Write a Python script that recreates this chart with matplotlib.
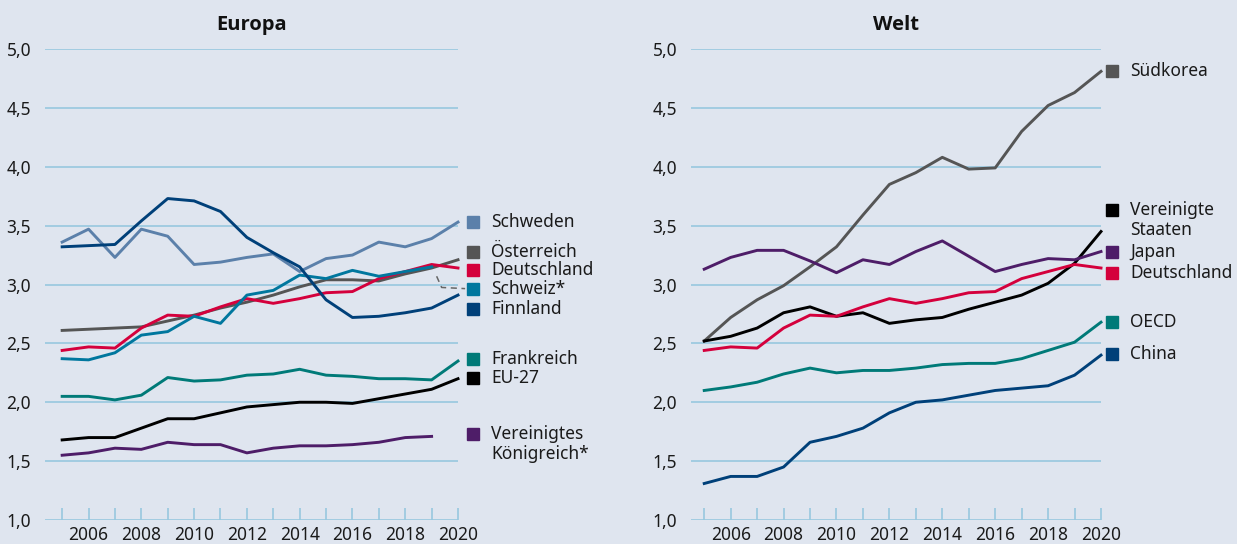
import numpy as np
import matplotlib.pyplot as plt
from matplotlib.ticker import FuncFormatter, MultipleLocator
from matplotlib.transforms import offset_copy

plt.rcParams["font.family"] = ["Noto Sans", "DejaVu Sans"]

YEARS = list(range(2005, 2021))

# -------------------------------------------------------------------
# Data: Europa
# -------------------------------------------------------------------
schweden = [3.36, 3.47, 3.23, 3.47, 3.41, 3.17, 3.19, 3.23, 3.26, 3.11,
            3.22, 3.25, 3.36, 3.32, 3.39, 3.53]
oesterreich = [2.61, 2.62, 2.63, 2.64, 2.69, 2.74, 2.80, 2.85, 2.91, 2.98,
               3.04, 3.04, 3.03, 3.09, 3.14, 3.21]
deutschland = [2.44, 2.47, 2.46, 2.63, 2.74, 2.73, 2.81, 2.88, 2.84, 2.88,
               2.93, 2.94, 3.05, 3.11, 3.17, 3.14]
schweiz = [2.37, 2.36, 2.42, 2.57, 2.60, 2.73, 2.67, 2.91, 2.95, 3.08,
           3.05, 3.12, 3.07, 3.11, 3.15, None]
finnland = [3.32, 3.33, 3.34, 3.54, 3.73, 3.71, 3.62, 3.40, 3.27, 3.15,
            2.87, 2.72, 2.73, 2.76, 2.80, 2.91]
frankreich = [2.05, 2.05, 2.02, 2.06, 2.21, 2.18, 2.19, 2.23, 2.24, 2.28,
              2.23, 2.22, 2.20, 2.20, 2.19, 2.35]
eu27 = [1.68, 1.70, 1.70, 1.78, 1.86, 1.86, 1.91, 1.96, 1.98, 2.00,
        2.00, 1.99, 2.03, 2.07, 2.11, 2.20]
uk = [1.55, 1.57, 1.61, 1.60, 1.66, 1.64, 1.64, 1.57, 1.61, 1.63,
      1.63, 1.64, 1.66, 1.70, 1.71, None]

# -------------------------------------------------------------------
# Data: Welt
# -------------------------------------------------------------------
suedkorea = [2.52, 2.72, 2.87, 2.99, 3.15, 3.32, 3.59, 3.85, 3.95, 4.08,
             3.98, 3.99, 4.30, 4.52, 4.63, 4.81]
usa = [2.52, 2.56, 2.63, 2.76, 2.81, 2.73, 2.76, 2.67, 2.70, 2.72,
       2.79, 2.85, 2.91, 3.01, 3.18, 3.45]
japan = [3.13, 3.23, 3.29, 3.29, 3.20, 3.10, 3.21, 3.17, 3.28, 3.37,
         3.24, 3.11, 3.17, 3.22, 3.21, 3.28]
oecd = [2.10, 2.13, 2.17, 2.24, 2.29, 2.25, 2.27, 2.27, 2.29, 2.32,
        2.33, 2.33, 2.37, 2.44, 2.51, 2.68]
china = [1.31, 1.37, 1.37, 1.45, 1.66, 1.71, 1.78, 1.91, 2.00, 2.02,
         2.06, 2.10, 2.12, 2.14, 2.23, 2.40]

C_SCHWEDEN = "#5b80aa"
C_GREY = "#555555"
C_RED = "#d4003c"
C_SCHWEIZ = "#00779e"
C_DARKBLUE = "#004079"
C_TEAL = "#007a78"
C_BLACK = "#000000"
C_PURPLE = "#4e1d68"

BG = "#dfe5ef"
GRID = "#98c8df"

# (label, values, colour, label y)
EUROPA = [
    ("Schweden", schweden, C_SCHWEDEN, 3.53),
    ("Österreich", oesterreich, C_GREY, 3.28),
    ("Deutschland", deutschland, C_RED, 3.12),
    ("Schweiz*", schweiz, C_SCHWEIZ, 2.96),
    ("Finnland", finnland, C_DARKBLUE, 2.79),
    ("Frankreich", frankreich, C_TEAL, 2.37),
    ("EU-27", eu27, C_BLACK, 2.21),
    ("Vereinigtes\nKönigreich*", uk, C_PURPLE, 1.73),
]

WELT = [
    ("Südkorea", suedkorea, C_GREY, 4.81),
    ("Vereinigte\nStaaten", usa, C_BLACK, 3.63),
    ("Japan", japan, C_PURPLE, 3.28),
    ("Deutschland", deutschland, C_RED, 3.10),
    ("OECD", oecd, C_TEAL, 2.68),
    ("China", china, C_DARKBLUE, 2.41),
]


def setup_ax(ax, title, xmin):
    ax.set_facecolor(BG)
    ax.set_xlim(xmin, 2020)
    ax.set_ylim(1.0, 5.0)
    for s in ax.spines.values():
        s.set_visible(False)
    ax.yaxis.set_major_locator(MultipleLocator(0.5))
    ax.yaxis.set_major_formatter(FuncFormatter(lambda v, _: f"{v:.1f}".replace(".", ",")))
    ax.grid(True, axis="y", color=GRID, linewidth=1.2)
    ax.set_axisbelow(True)
    ax.set_xticks(range(2006, 2021, 2))
    ax.set_xticks(range(2005, 2021), minor=True)
    ax.tick_params(axis="y", length=0, pad=10, labelsize=12.5, labelcolor="#1a1a1a")
    ax.tick_params(axis="x", which="both", direction="in", length=9,
                   width=1.2, color=GRID, pad=4, labelsize=12.5, labelcolor="#1a1a1a")
    ax.set_title(title, fontsize=14.5, fontweight="bold", pad=14,
                 family=["Open Sans", "DejaVu Sans"], color="#111111")


def draw_panel(ax, series, sq_dx, txt_dx):
    fig = ax.figure
    sq_tr = offset_copy(ax.transData, fig=fig, x=sq_dx, y=0, units="dots")
    for label, values, color, ylab in series:
        xs = [x for x, v in zip(YEARS, values) if v is not None]
        ys = [v for v in values if v is not None]
        ax.plot(xs, ys, color=color, linewidth=2.1, clip_on=False,
                solid_joinstyle="round", zorder=3)
        ax.plot([2020], [ylab], marker="s", markersize=9, color=color,
                linestyle="none", transform=sq_tr, clip_on=False)
        multi = "\n" in label
        ax.annotate(label, xy=(2020, ylab), xytext=(txt_dx, 9 if multi else 0),
                    textcoords="offset pixels", va="top" if multi else "center",
                    ha="left", fontsize=12.5, color="#1a1a1a",
                    linespacing=1.15, annotation_clip=False)


fig = plt.figure(figsize=(12.37, 5.44), dpi=100, facecolor=BG)
W, H = 1237, 544

ax1 = fig.add_axes([45 / W, (H - 520) / H, (458 - 45) / W, (520 - 49) / H])
ax2 = fig.add_axes([691 / W, (H - 520) / H, (1101 - 691) / W, (520 - 49) / H])

setup_ax(ax1, "Europa", 2004.35)
setup_ax(ax2, "Welt", 2004.5)

draw_panel(ax1, EUROPA, 15, 33)
draw_panel(ax2, WELT, 11, 29)

# dashed leader from Schweiz line end to its label
ax1.plot([2019.19, 2019.38, 2020.27], [3.07, 2.975, 2.965], color="#666666",
         linestyle=(0, (4, 3)), linewidth=1.1, clip_on=False, zorder=2)

fig.savefig("out.png", dpi=100, facecolor=BG)
